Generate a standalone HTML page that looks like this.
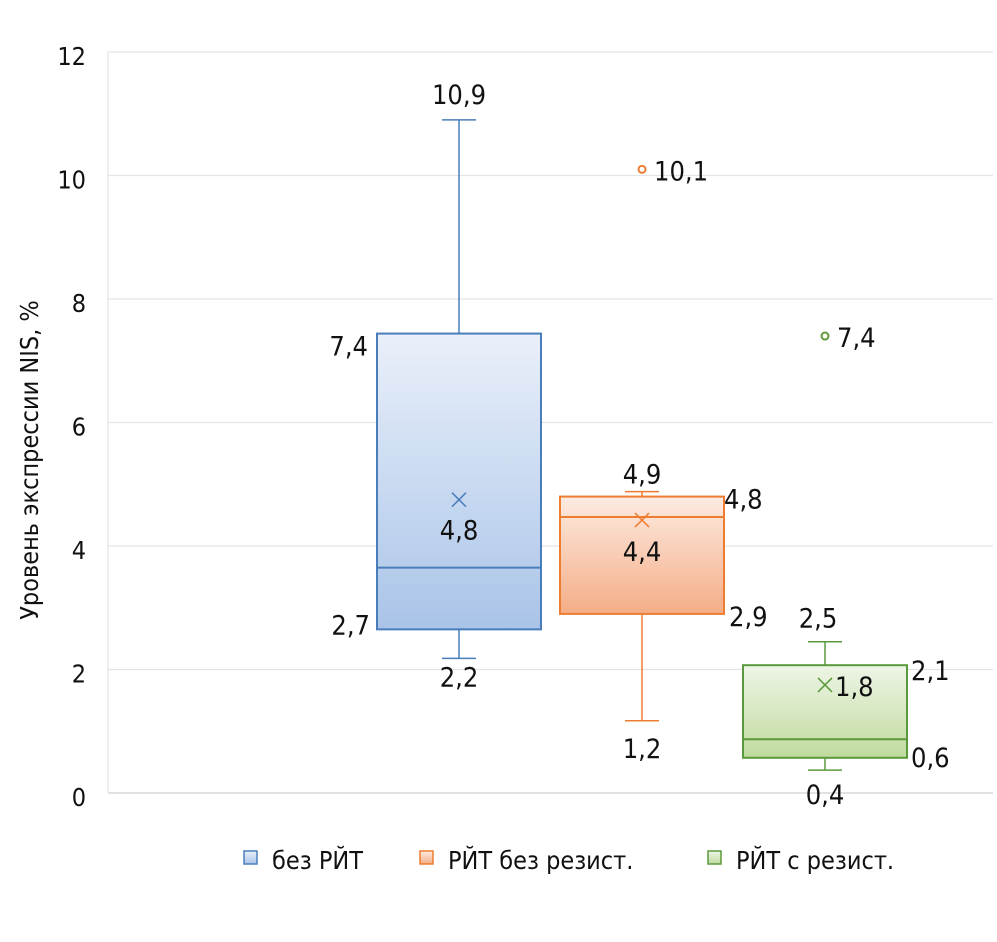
<!DOCTYPE html>
<html><head><meta charset="utf-8"><style>
body{margin:0;background:#fff}
svg text{font-family:"DejaVu Sans Condensed","Liberation Sans Narrow",sans-serif;font-stretch:condensed;fill:#111}
</style></head><body>
<svg id="c" width="997" height="937" viewBox="0 0 997 937">
<defs>
<linearGradient id="gb" x1="0" y1="0" x2="0" y2="1"><stop offset="0" stop-color="#eaf0fa"/><stop offset="1" stop-color="#a9c4e8"/></linearGradient>
<linearGradient id="go" x1="0" y1="0" x2="0" y2="1"><stop offset="0" stop-color="#fdebe2"/><stop offset="1" stop-color="#f4ad86"/></linearGradient>
<linearGradient id="gg" x1="0" y1="0" x2="0" y2="1"><stop offset="0" stop-color="#eef5e6"/><stop offset="1" stop-color="#c0da9e"/></linearGradient>
</defs>
<g id="grid"></g><g id="marks"></g>
<text x="38" y="460" transform="rotate(-90 38 460)" text-anchor="middle" font-size="25">Уровень экспрессии NIS, %</text>
<g>
<rect x="244" y="851" width="13" height="13" fill="url(#gb)" stroke="#4a7ebb" stroke-width="1.5"/>
<text x="272" y="869" font-size="25">без РЙТ</text>
<rect x="420" y="851" width="13" height="13" fill="url(#go)" stroke="#ed7d31" stroke-width="1.5"/>
<text x="448" y="869" font-size="25">РЙТ без резист.</text>
<rect x="708" y="851" width="13" height="13" fill="url(#gg)" stroke="#5b9a3c" stroke-width="1.5"/>
<text x="736" y="869" font-size="25">РЙТ с резист.</text>
</g>
</svg>
<script>
const categories=["без РЙТ","РЙТ без резист.","РЙТ с резист."];
const q1=[2.65,2.9,0.57];
const q3=[7.44,4.8,2.07];
const medians=[3.65,4.47,0.87];
const mins=[2.18,1.17,0.37];
const maxs=[10.9,4.88,2.45];
const means=[4.75,4.42,1.75];
const outliers=[null,10.1,7.4];
const yTicks=[0,2,4,6,8,10,12];
const NS="http://www.w3.org/2000/svg";
const y=v=>793-v*61.75;
const cx=i=>459+i*183;
const colors=["#4a7ebb","#ed7d31","#5b9a3c"],fills=["url(#gb)","url(#go)","url(#gg)"];
function el(t,a,p){const e=document.createElementNS(NS,t);for(const k in a)e.setAttribute(k,a[k]);p.appendChild(e);return e;}
const g=document.getElementById('grid'),m=document.getElementById('marks');
yTicks.forEach(t=>{
 const l=el('line',{x1:108,x2:993,y1:y(t),y2:y(t),stroke:t==0?'#d0d0d0':'#e4e4e4','stroke-width':1.3},g);
 
 
 const tx=el('text',{x:86,y:y(t)+13,'text-anchor':'end','font-size':25},g);tx.textContent=t;
 
 
});
el('line',{x1:108,x2:108,y1:52,y2:793,stroke:'#e4e4e4','stroke-width':1.3},g);
const fmt=v=>(Math.round(v*10)/10).toFixed(1).replace('.',',');
function lab(txt,x,yy,anchor){const t=el('text',{x:x,y:yy,'text-anchor':anchor||'middle','font-size':27},m);t.textContent=txt;
 
 }
categories.forEach((c,i)=>{
 const x=cx(i),col=colors[i],w=82,hw=17;
 const grp=el('g',{},m);
 
 
 el('line',{x1:x,x2:x,y1:y(maxs[i]),y2:y(q3[i]),stroke:col,'stroke-width':1.5},grp);
 el('line',{x1:x,x2:x,y1:y(q1[i]),y2:y(mins[i]),stroke:col,'stroke-width':1.5},grp);
 el('line',{x1:x-hw,x2:x+hw,y1:y(maxs[i]),y2:y(maxs[i]),stroke:col,'stroke-width':1.5},grp);
 el('line',{x1:x-hw,x2:x+hw,y1:y(mins[i]),y2:y(mins[i]),stroke:col,'stroke-width':1.5},grp);
 el('rect',{x:x-w,y:y(q3[i]),width:2*w,height:y(q1[i])-y(q3[i]),fill:fills[i],stroke:col,'stroke-width':2},grp);
 el('line',{x1:x-w,x2:x+w,y1:y(medians[i]),y2:y(medians[i]),stroke:col,'stroke-width':2},grp);
 const my=y(means[i]);
 el('path',{d:`M${x-7} ${my-7}L${x+7} ${my+7}M${x+7} ${my-7}L${x-7} ${my+7}`,stroke:col,'stroke-width':1.5},grp);
 if(outliers[i]!=null){el('circle',{cx:x,cy:y(outliers[i]),r:3.5,fill:'#fff',stroke:col,'stroke-width':2},grp);
  lab(fmt(outliers[i]),x+12,y(outliers[i])+11,'start');}
});
lab(fmt(maxs[0]),cx(0),y(maxs[0])-16);
lab(fmt(q3[0]),368,y(q3[0])+22,'end');
lab(fmt(means[0]),cx(0),y(means[0])+40);
lab(fmt(q1[0]),370,y(q1[0])+5,'end');
lab(fmt(mins[0]),cx(0),y(mins[0])+28);
lab(fmt(maxs[1]),cx(1),y(maxs[1])-8);
lab(fmt(q3[1]),724,y(q3[1])+12,'start');
lab(fmt(means[1]),cx(1),y(means[1])+41);
lab(fmt(q1[1]),729,y(q1[1])+12,'start');
lab(fmt(mins[1]),cx(1),y(mins[1])+37);
lab(fmt(maxs[2]),818,y(maxs[2])-14);
lab(fmt(means[2]),835,y(means[2])+11,'start');
lab(fmt(q3[2]),911,y(q3[2])+15,'start');
lab(fmt(q1[2]),911,y(q1[2])+9,'start');
lab(fmt(mins[2]),cx(2),y(mins[2])+34);
</script>
</body></html>
